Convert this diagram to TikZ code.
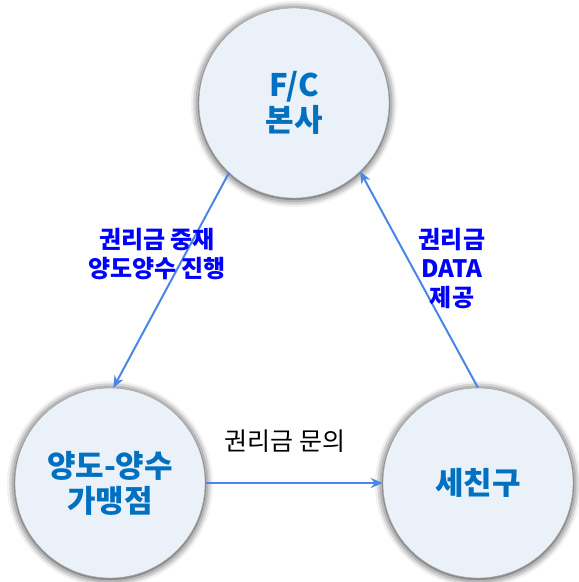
\documentclass[tikz,border=0pt]{standalone}
\usepackage{fontspec}
\setmainfont{Noto Sans CJK KR}
\usetikzlibrary{arrows.meta,shadows.blur}
\definecolor{nodefill}{RGB}{235,241,248}
\definecolor{nodetext}{RGB}{0,112,192}
\definecolor{linkblue}{RGB}{74,134,232}
\begin{document}
\begin{tikzpicture}[x=1pt,y=-1pt,>={Stealth[length=12pt,width=10pt]},
    party/.style={circle,draw=gray!70,fill=nodefill,minimum size=190pt,inner sep=0pt,align=center,
        text=nodetext,font=\fontsize{31}{35}\selectfont\bfseries,
        blur shadow={shadow xshift=0pt,shadow yshift=-1pt,shadow blur radius=8pt,shadow opacity=90}},
    link/.style={->,linkblue,line width=2pt},
    note/.style={align=center,text=blue,font=\fontsize{24}{29}\selectfont\bfseries}]
    \useasboundingbox (0,0) rectangle (579,582);

    % the three parties
    \node[party] (hq) at (294,103) {F/C\\본사};
    \node[party] (shop) at (110,483) {양도-양수\\가맹점};
    \node[party] (agent) at (478,483) {세친구};

    % flows between them
    \draw[link] (hq.227) -- (shop.88);
    \draw[link] (shop.east) -- (agent.west);
    \draw[link] (agent.90) -- (hq.-46);

    \node[note] (mediate) at (157,254) {권리금 중재\\양도양수 진행};
    \node[note] (supply) at (452,269) {권리금\\DATA\\제공};
    \node[note,text=black,font=\fontsize{25}{29}\selectfont] (ask) at (285,441) {권리금 문의};
\end{tikzpicture}
\end{document}
